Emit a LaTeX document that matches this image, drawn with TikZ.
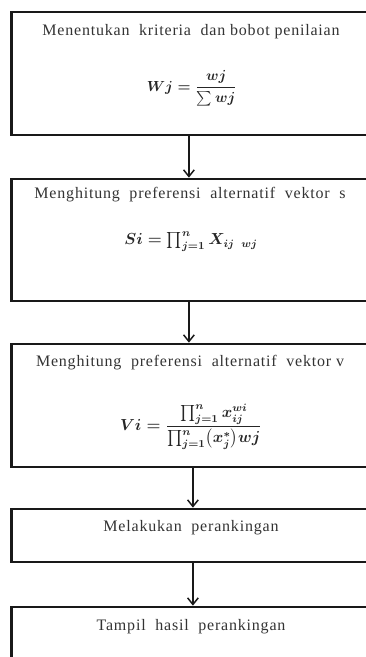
\documentclass[tikz,border=0pt]{standalone}
\usepackage{amsmath}
\usepackage{fontspec}
\setmainfont{Liberation Serif}
\newfontfamily\spacedserif[LetterSpace=5]{Liberation Serif}
\usetikzlibrary{arrows.meta}
\begin{document}
\begin{tikzpicture}[x=0.75pt,y=-0.75pt,
  flowbox/.style={draw=black!90, line width=2pt, rectangle, minimum width=267.75pt, inner sep=0pt},
  title/.style={font=\spacedserif\fontsize{12}{14}\selectfont, text=black!80, inner sep=0pt},
  formula/.style={font=\fontsize{12}{14}\selectfont\boldmath, text=black!85, inner sep=0pt},
  flow/.style={line width=1.1pt, draw=black!90, -{Straight Barb[length=5pt,width=8pt,line width=1.1pt]}}]
\path[use as bounding box, clip] (0,0) rectangle (366,657);
\node[flowbox, minimum height=92.25pt] (b1) at (190.25,73.5) {};
\node[flowbox, minimum height=91.5pt] (b2) at (190.25,240) {};
\node[flowbox, minimum height=92.25pt] (b3) at (190.25,405.5) {};
\node[flowbox, minimum height=39.75pt] (b4) at (190.25,535.5) {};
\node[flowbox, minimum height=90pt] (b5) at (190.25,667) {};
\node[title] (t1) at (191,32) {Menentukan\ \ kriteria\ \ dan bobot penilaian};
\node[formula, font=\fontsize{11}{14}\selectfont\boldmath] (f1) at (192,88) {$Wj=\dfrac{wj}{\textstyle\sum wj}$};
\node[title] (t2) at (190,195) {Menghitung\ \ preferensi\ \ alternatif\ \ vektor\ \ s};
\node[formula] (f2) at (191,242) {$Si=\prod_{j=1}^{n}X_{ij\;\;wj}$};
\node[title] (t3) at (190,363) {Menghitung\ \ preferensi\ \ alternatif\ \ vektor\ v};
\node[formula] (f3) at (191,427) {$Vi=\dfrac{\prod_{j=1}^{n}x_{ij}^{wi}}{\prod_{j=1}^{n}\bigl(x_j^{*}\bigr)wj}$};
\node[title] (t4) at (191,528) {Melakukan\ \ perankingan};
\node[title] (t5) at (191,627) {Tampil\ \ hasil\ \ perankingan};
\draw[flow] ([xshift=-1pt]b1.south) -- ([xshift=-1pt]b2.north);
\draw[flow] ([xshift=-1pt]b2.south) -- ([xshift=-1pt]b3.north);
\draw[flow] ([xshift=2pt]b3.south) -- ([xshift=2pt]b4.north);
\draw[flow] ([xshift=2pt]b4.south) -- ([xshift=2pt]b5.north);
\end{tikzpicture}
\end{document}
